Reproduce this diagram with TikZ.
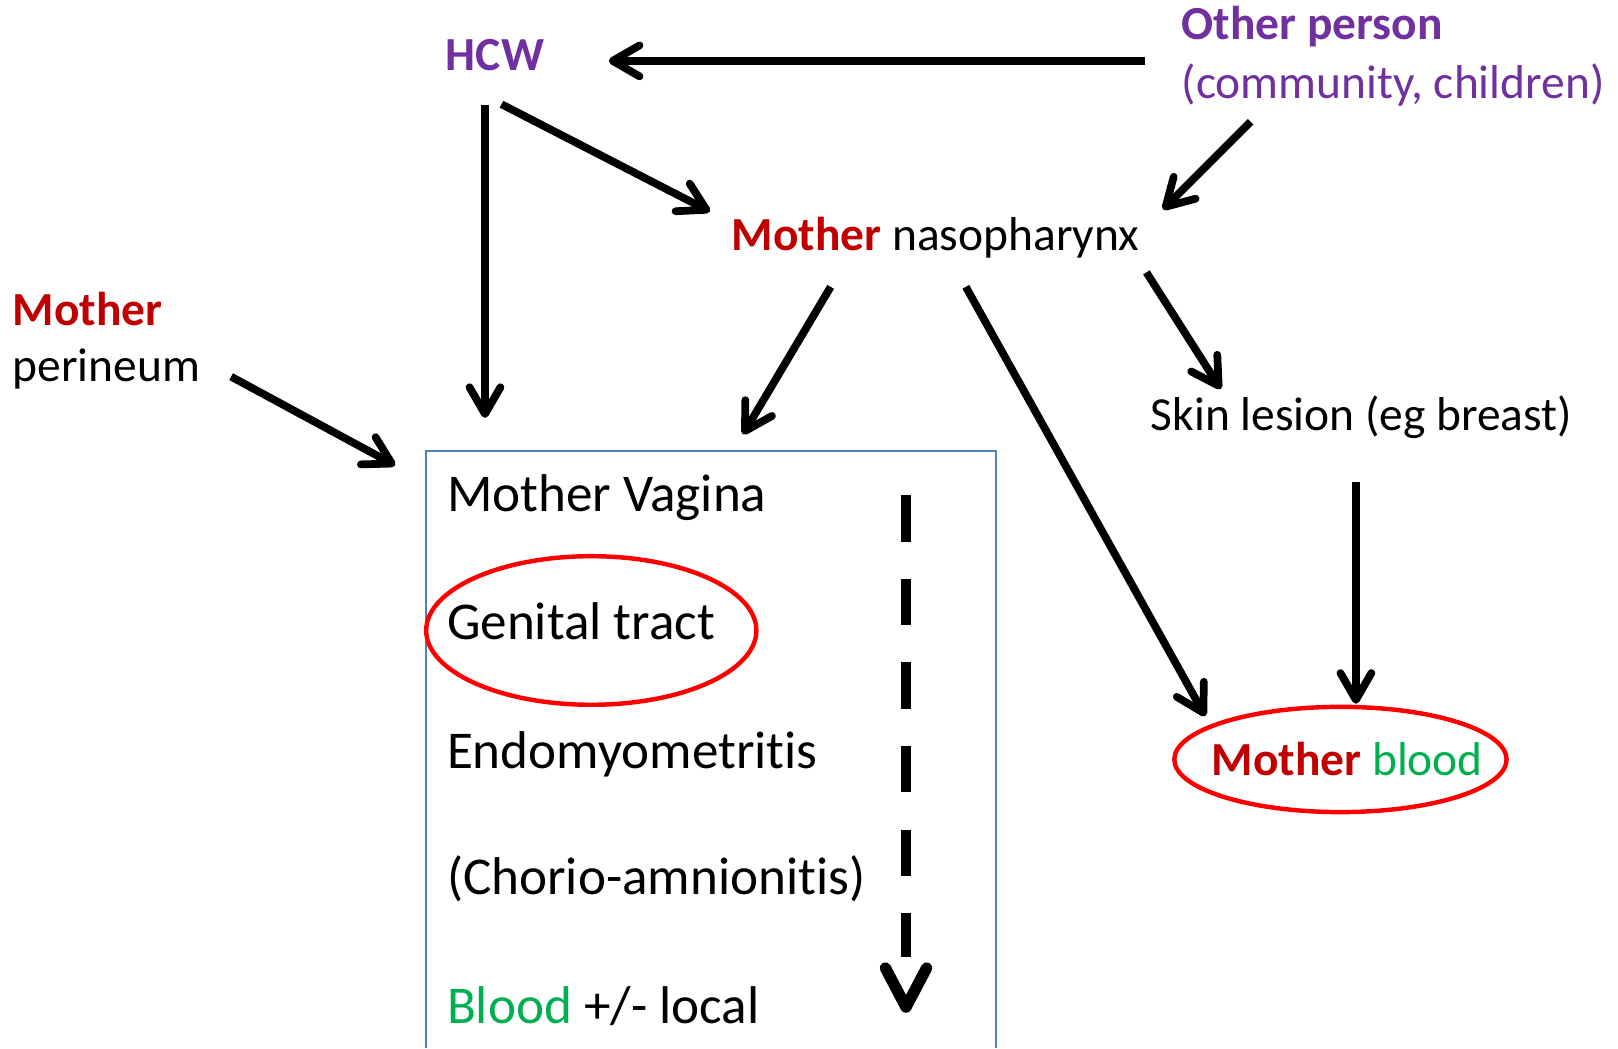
\documentclass[tikz,border=0pt]{standalone}
\usepackage{fontspec}
\setmainfont{Carlito}[Ligatures={NoCommon}]
\usetikzlibrary{arrows.meta,shapes.geometric}
\definecolor{hcwpurple}{HTML}{7030A0}
\definecolor{mred}{HTML}{C00000}
\definecolor{bgreen}{HTML}{00B050}
\definecolor{boxblue}{HTML}{4F81BD}
\definecolor{ringred}{HTML}{FF0000}

\begin{document}
\begin{tikzpicture}[x=1pt,y=-1pt,
  lbl/.style={anchor=base west, inner sep=0pt, font=\fontsize{46pt}{55pt}\selectfont},
  boxlbl/.style={anchor=base west, inner sep=0pt, font=\fontsize{51.5pt}{60pt}\selectfont},
  flow/.style={line width=7.5pt, -{Straight Barb[length=26pt,width=30pt,round]}},
  ring/.style={draw=ringred, line width=4.3pt, ellipse, inner sep=0pt},
  boxline/.style={draw=boxblue, line width=1.5pt},
  dashshaft/.style={line width=10.5pt, dash pattern=on 45pt off 36pt},
  vhead/.style={line width=11pt, line cap=round, line join=round}]

\useasboundingbox (0,0) rectangle (1568,1016);

% labels
\node[lbl, text=hcwpurple, font=\fontsize{46pt}{55pt}\selectfont\bfseries] (hcw) at (432,68) {HCW};
\node[lbl, text=hcwpurple, font=\fontsize{46pt}{55pt}\selectfont\bfseries] (other) at (1145,38) {Other person};
\node[lbl, text=hcwpurple] (othersub) at (1145,95) {(community, children)};
\node[lbl] (naso) at (709,243) {\textcolor{mred}{\textbf{Mother}} nasopharynx};
\node[lbl, text=mred, font=\fontsize{46pt}{55pt}\selectfont\bfseries] (perimother) at (12,315) {Mother};
\node[lbl] (perineum) at (12,370) {perineum};
\node[lbl] (skin) at (1115,417) {Skin lesion (eg breast)};

% stages inside the box
\draw[boxline] (413,1016) -- (413,437) -- (965,437) -- (965,1016);
\node[boxlbl] (vagina) at (433,496) {Mother Vagina};
\node[boxlbl] (genital) at (433,620) {Genital tract};
\node[boxlbl] (endo) at (433,745) {Endomyometritis};
\node[boxlbl] (chorio) at (433,867) {(Chorio-amnionitis)};
\node[boxlbl] (bloodlocal) at (433,992) {\textcolor{bgreen}{Blood} +/- local};
\node[ring, minimum width=320pt, minimum height=144pt] (genring) at (573,611) {};

% mother blood
\node[ring, minimum width=322pt, minimum height=102pt] (bloodring) at (1299,736) {};
\node[lbl] (blood) at (1174,752) {\textcolor{mred}{\textbf{Mother}} \textcolor{bgreen}{blood}};

% progression arrow
\coordinate (dtop) at (878,480);
\coordinate (dbot) at (878,927);
\coordinate (dtip) at (878,976);
\draw[dashshaft] (dtop) -- (dbot);
\draw[vhead] (858,938) -- (dtip) -- (898,938);

% connector end points
\coordinate (otherL) at (1110,59);
\coordinate (hcwR) at (590,59);
\coordinate (hcwB) at (470,102);
\coordinate (boxTopL) at (470,405);
\coordinate (hcwBR) at (486,101);
\coordinate (nasoUL) at (688,205);
\coordinate (otherB) at (1212,118);
\coordinate (nasoUR) at (1127,203);
\coordinate (nasoBL) at (805,278);
\coordinate (boxTopM) at (720,421);
\coordinate (nasoBM) at (936,278);
\coordinate (bloodUL) at (1168,694);
\coordinate (nasoBR) at (1111,264);
\coordinate (skinT) at (1183,377);
\coordinate (skinB) at (1314,467);
\coordinate (bloodT) at (1314,682);
\coordinate (periR) at (224,365);
\coordinate (boxUL) at (383,451);

% connectors
\draw[flow] (otherL) -- (hcwR);
\draw[flow] (hcwB) -- (boxTopL);
\draw[flow] (hcwBR) -- (nasoUL);
\draw[flow] (otherB) -- (nasoUR);
\draw[flow] (nasoBL) -- (boxTopM);
\draw[flow] (nasoBM) -- (bloodUL);
\draw[flow] (nasoBR) -- (skinT);
\draw[flow] (skinB) -- (bloodT);
\draw[flow] (periR) -- (boxUL);
\end{tikzpicture}
\end{document}
